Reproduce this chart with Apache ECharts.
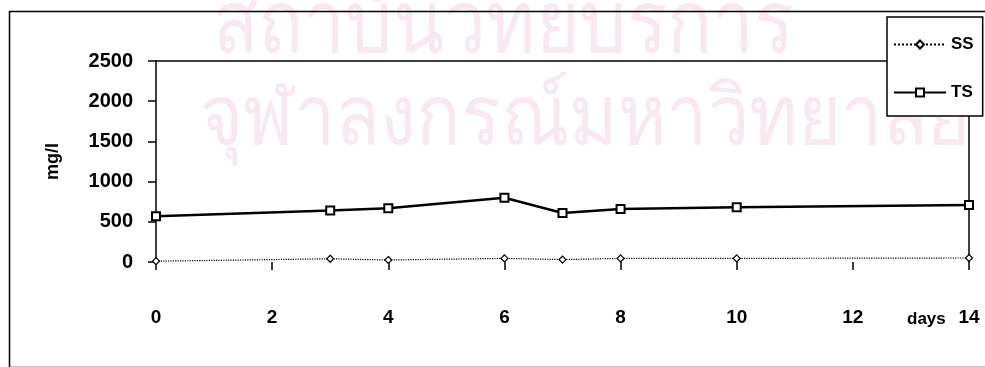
<!DOCTYPE html>
<html>
<head>
<meta charset="utf-8">
<script src="https://cdn.jsdelivr.net/npm/echarts@6/dist/echarts.min.js"></script>
<style>
  html, body { margin: 0; padding: 0; background: #fff; }
  #chart { width: 985px; height: 367px; }
</style>
</head>
<body>
<div id="chart"></div>
<script>
// Sampling days and measured concentrations (mg/l)
const days = [0, 3, 4, 6, 7, 8, 10, 14];
const ssValues = [10, 40, 25, 45, 30, 45, 45, 50];
const tsValues = [570, 640, 670, 800, 610, 660, 680, 710];
const yTicks = [0, 500, 1000, 1500, 2000, 2500];
const xTicks = [0, 2, 4, 6, 8, 10, 12, 14];

const font = '"Liberation Sans", Arial, sans-serif';
const thaiFont = '"Noto Sans", "DejaVu Sans", sans-serif';
const pair = (xs, ys) => xs.map((x, i) => [x, ys[i]]);

const chart = echarts.init(document.getElementById('chart'));
chart.setOption({
  animation: false,
  backgroundColor: '#fff',
  graphic: [
    { type: 'text', x: 213, y: -16, scaleX: 0.87, z: 0, silent: true,
      style: { text: 'สถาบันวิทยบริการ', font: '86px ' + thaiFont, fill: '#f8e8f1' } },
    { type: 'text', x: 200, y: 80, scaleX: 0.9, z: 0, silent: true,
      style: { text: 'จุฬาลงกรณ์มหาวิทยาลัย', font: '82px ' + thaiFont, fill: '#f8e8f1' } },
    { type: 'rect', left: 7, top: 9, z: 1, silent: true,
      shape: { width: 990, height: 356 },
      style: { fill: 'none', stroke: '#000', lineWidth: 1.5 } },
    { type: 'text', left: 907, top: 311, z: 5,
      style: { text: 'days', font: 'bold 17px ' + font, fill: '#000' } }
  ],
  legend: {
    orient: 'vertical',
    left: 887, top: 17,
    padding: [19, 9, 15, 6],
    itemGap: 31,
    itemWidth: 52,
    itemHeight: 10,
    backgroundColor: '#fff',
    borderColor: '#000',
    borderWidth: 1.5,
    textStyle: { fontFamily: font, fontWeight: 'bold', fontSize: 17, lineHeight: 14, color: '#000' },
    data: ['SS', 'TS']
  },
  grid: { left: 156, right: 16, top: 61, bottom: 105 },
  xAxis: [{
    type: 'value', min: 0, max: 14, interval: 2,
    axisLine: { show: false },
    axisTick: { show: true, length: 8, lineStyle: { color: '#000', width: 1.5 } },
    splitLine: { show: false },
    axisLabel: {
      margin: 46, color: '#000', fontFamily: font, fontWeight: 'bold', fontSize: 19,
      formatter: v => xTicks.includes(v) ? String(v) : ''
    }
  }, {
    type: 'value', position: 'top', min: 0, max: 14,
    axisLine: { show: true, onZero: false, lineStyle: { color: '#000', width: 1.5 } },
    axisTick: { show: false }, axisLabel: { show: false }, splitLine: { show: false }
  }],
  yAxis: [{
    type: 'value', min: 0, max: 2500, interval: 500,
    name: 'mg/l', nameLocation: 'middle', nameGap: 94, nameRotate: 90,
    nameTextStyle: { fontFamily: font, fontWeight: 'bold', fontSize: 18, color: '#000' },
    axisLine: { show: true, lineStyle: { color: '#000', width: 1.5 } },
    axisTick: { show: true, length: 8, lineStyle: { color: '#000', width: 1.5 } },
    splitLine: { show: false },
    axisLabel: {
      margin: 23, color: '#000', fontFamily: font, fontWeight: 'bold', fontSize: 20,
      formatter: v => yTicks.includes(v) ? String(v) : ''
    }
  }, {
    type: 'value', position: 'right', min: 0, max: 2500,
    axisLine: { show: true, onZero: false, lineStyle: { color: '#000', width: 1.5 } },
    axisTick: { show: false }, axisLabel: { show: false }, splitLine: { show: false }
  }],
  series: [{
    name: 'SS', type: 'line', data: pair(days, ssValues),
    symbol: 'diamond', symbolSize: 7, showAllSymbol: true,
    lineStyle: { color: '#000', width: 1.2, type: 'dotted' },
    itemStyle: { color: '#fff', borderColor: '#000', borderWidth: 1.2 },
    z: 4
  }, {
    name: 'TS', type: 'line', data: pair(days, tsValues),
    symbol: 'rect', symbolSize: 8, showAllSymbol: true,
    lineStyle: { color: '#000', width: 2.5 },
    itemStyle: { color: '#fff', borderColor: '#000', borderWidth: 2 },
    z: 4
  }]
});
</script>
</body>
</html>
